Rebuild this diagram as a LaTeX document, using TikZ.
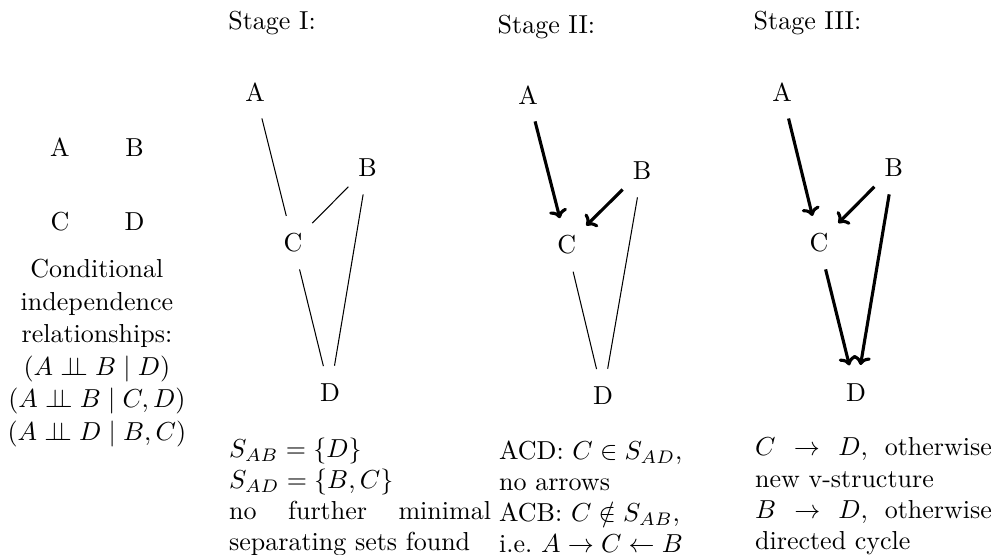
\documentclass[tikz,border=0pt]{standalone}
\usepackage{amsmath,amssymb}
\usetikzlibrary{arrows.meta}
\newcommand{\indep}{\perp\!\!\!\perp}
\hyphenpenalty=10000

\begin{document}
\begin{tikzpicture}[
  vtx/.style={circle, minimum size=0.73cm, inner sep=0pt},
  dir/.style={-{To[length=3.4pt, width=7pt]}, very thick},
  skel/.style={-},
  stagehdr/.style={anchor=west, inner sep=0pt},
  note/.style={anchor=north west, inner sep=0pt},
]
\useasboundingbox (0,0) rectangle (13.53,-7.49);

% Independence relations
\node[vtx] (A0) at (0.81, -1.99) {A};
\node[vtx] (B0) at (1.82, -1.99) {B};
\node[vtx] (C0) at (0.81, -3.00) {C};
\node[vtx] (D0) at (1.82, -3.00) {D};
\node[anchor=north, inner sep=0pt, align=center,
      font=\fontsize{10}{12.5}\selectfont] (rel) at (1.31, -3.50)
  {Conditional\\independence\\relationships:\\$(A \indep B \mid D)$\\
   $(A \indep B \mid C, D)$\\$(A \indep D \mid B, C)$};

% Stage I: skeleton
\node[stagehdr] (h1) at (3.08, -0.31) {Stage I:};
\node[vtx] (A1) at (3.45, -1.24) {A};
\node[vtx] (B1) at (4.97, -2.26) {B};
\node[vtx] (C1) at (3.96, -3.28) {C};
\node[vtx] (D1) at (4.46, -5.31) {D};
\draw[skel] (A1) -- (C1);
\draw[skel] (B1) -- (C1);
\draw[skel] (B1) -- (D1);
\draw[skel] (C1) -- (D1);
\node[note, text width=3.54cm, align=justify] (t1) at (3.09, -5.91)
  {$S_{AB} = \{D\}$\\$S_{AD} = \{B, C\}$\\no further minimal separating sets found};

% Stage II: v-structures
\node[stagehdr] (h2) at (6.72, -0.36) {Stage II:};
\node[vtx] (A2) at (7.14, -1.28) {A};
\node[vtx] (B2) at (8.68, -2.30) {B};
\node[vtx] (C2) at (7.66, -3.31) {C};
\node[vtx] (D2) at (8.15, -5.35) {D};
\draw[dir] (A2) -- (C2);
\draw[dir] (B2) -- (C2);
\draw[skel] (B2) -- (D2);
\draw[skel] (C2) -- (D2);
\node[note, text width=3.31cm, align=left] (t2) at (6.74, -5.95)
  {ACD: $C \in S_{AD}$,\\no arrows\\ACB: $C \notin S_{AB}$,\\i.e.\ $A \to C \leftarrow B$};

% Stage III: orientation rules
\node[stagehdr] (h3) at (10.18, -0.31) {Stage III:};
\node[vtx] (A3) at (10.57, -1.24) {A};
\node[vtx] (B3) at (12.08, -2.26) {B};
\node[vtx] (C3) at (11.07, -3.28) {C};
\node[vtx] (D3) at (11.57, -5.30) {D};
\draw[dir] (A3) -- (C3);
\draw[dir] (B3) -- (C3);
\draw[dir] (B3) -- (D3);
\draw[dir] (C3) -- (D3);
\node[note, text width=3.20cm, align=justify] (t3) at (10.20, -5.91)
  {$C \to D$, otherwise new v-structure\\$B \to D$, otherwise directed cycle};

\end{tikzpicture}
\end{document}
